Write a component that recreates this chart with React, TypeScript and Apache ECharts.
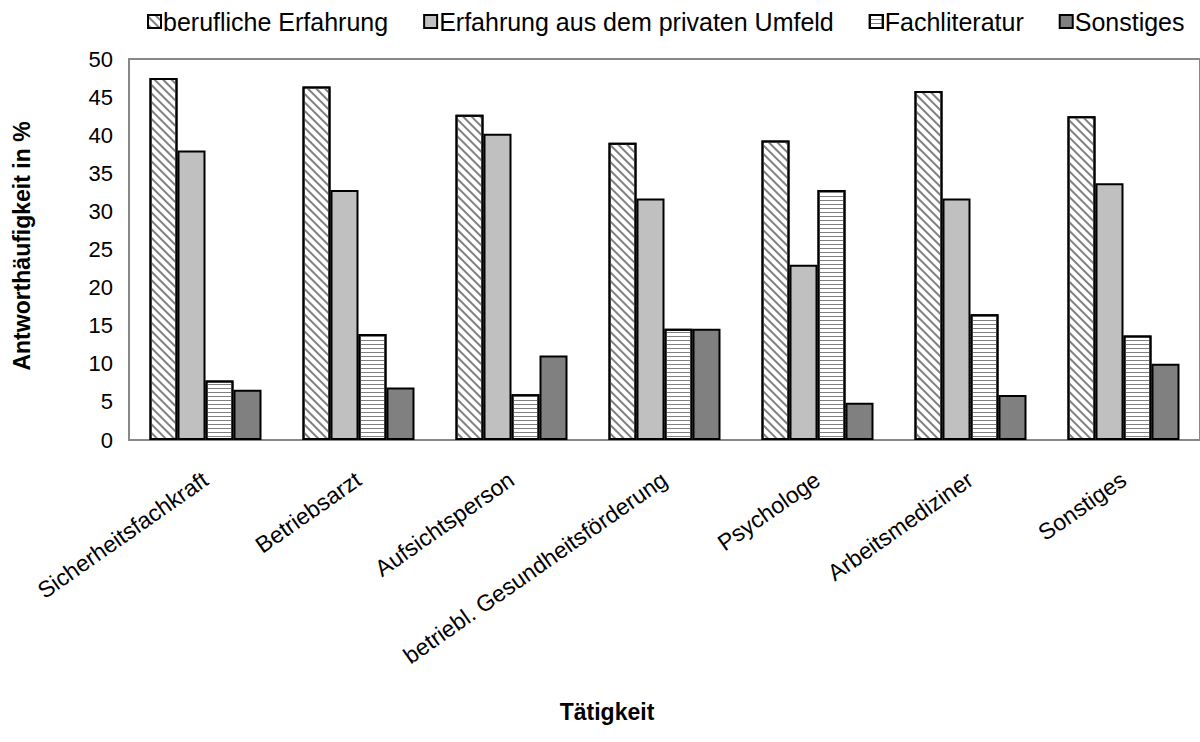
import React, { useEffect, useRef } from "react";
import * as echarts from "echarts";

const categories = [
  "Sicherheitsfachkraft",
  "Betriebsarzt",
  "Aufsichtsperson",
  "betriebl. Gesundheitsförderung",
  "Psychologe",
  "Arbeitsmediziner",
  "Sonstiges",
];
const seriesNames = [
  "berufliche Erfahrung",
  "Erfahrung aus dem privaten Umfeld",
  "Fachliteratur",
  "Sonstiges",
];
const beruflich = [47.5, 46.4, 42.7, 39.0, 39.3, 45.8, 42.5];
const privat = [38.0, 32.8, 40.2, 31.7, 23.0, 31.7, 33.7];
const fachliteratur = [7.8, 13.9, 6.0, 14.6, 32.8, 16.5, 13.7];
const sonstiges = [6.6, 6.9, 11.1, 14.6, 4.9, 5.9, 10.0];
const yTicks = { min: 0, max: 50, interval: 5 };

const FONT = "Arial, 'Liberation Sans', sans-serif";

export default function App() {
  const ref = useRef<HTMLDivElement>(null);
  useEffect(() => {
    if (!ref.current) return;
    const chart = echarts.init(ref.current, undefined, { renderer: "svg" });
    const border = { borderColor: "#000", borderWidth: 2 };
    const mk = (name: string, data: number[], itemStyle: any) => ({
      type: "bar",
      name,
      data,
      barGap: "0%",
      barWidth: 28,
      itemStyle: { ...border, ...itemStyle },
    });
    chart.setOption({
      animation: false,
      backgroundColor: "#fff",
      textStyle: { fontFamily: FONT },
      legend: {
        left: 142,
        top: 4,
        itemWidth: 13,
        itemHeight: 13,
        itemGap: 35,
        icon: "rect",
        textStyle: { fontSize: 25, color: "#000", fontFamily: FONT, padding: [0, 0, 0, -3] },
        data: seriesNames,
      },
      grid: {
        left: 129,
        top: 59,
        right: -9,
        bottom: 302,
        show: true,
        borderColor: "#888",
        borderWidth: 2,
      },
      xAxis: {
        type: "category",
        data: categories,
        axisLine: { lineStyle: { color: "#888", width: 2 } },
        axisTick: { show: false },
        axisLabel: {
          interval: 0,
          rotate: 35,
          fontSize: 23,
          color: "#000",
          fontFamily: FONT,
          margin: 37,
        },
      },
      yAxis: {
        type: "value",
        ...yTicks,
        axisLine: { show: true, lineStyle: { color: "#888", width: 2 } },
        axisTick: { show: false },
        splitLine: { show: false },
        axisLabel: { fontSize: 22, color: "#000", fontFamily: FONT, margin: 16 },
      },
      graphic: [
        {
          type: "text",
          x: 22,
          y: 246,
          rotation: Math.PI / 2,
          style: {
            text: "Antworthäufigkeit in %",
            font: `bold 23px ${FONT}`,
            fill: "#000",
            align: "center",
            verticalAlign: "middle",
          },
        },
        {
          type: "text",
          x: 607,
          y: 712,
          style: {
            text: "Tätigkeit",
            font: `bold 23px ${FONT}`,
            fill: "#000",
            align: "center",
            verticalAlign: "middle",
          },
        },
      ],
      series: [
        mk(seriesNames[0], beruflich, {
          color: "#fff",
          decal: {
            symbol: "rect",
            symbolSize: 1,
            dashArrayX: [1, 0],
            dashArrayY: [2, 4],
            rotation: Math.PI / 4,
            color: "#808080",
          },
        }),
        mk(seriesNames[1], privat, { color: "#c0c0c0" }),
        mk(seriesNames[2], fachliteratur, {
          color: "#fff",
          decal: {
            symbol: "rect",
            symbolSize: 1,
            dashArrayX: [1, 0],
            dashArrayY: [1, 3],
            rotation: 0,
            color: "#808080",
          },
        }),
        mk(seriesNames[3], sonstiges, { color: "#808080" }),
      ],
    });
    return () => chart.dispose();
  }, []);
  return (
    <div
      ref={ref}
      style={{ position: "fixed", left: 0, top: 0, width: 1200, height: 742, background: "#fff" }}
    />
  );
}
